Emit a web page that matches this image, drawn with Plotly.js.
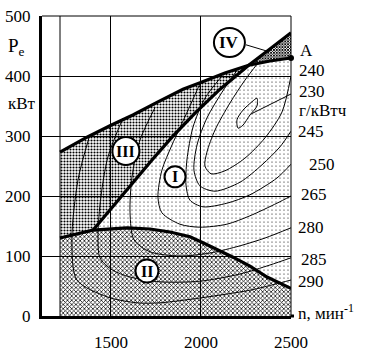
<!DOCTYPE html>
<html><head><meta charset="utf-8">
<script src="https://cdn.plot.ly/plotly-3.0.1.min.js"></script>
<style>html,body{margin:0;padding:0;background:#fff}</style>
</head><body><div id="chart" style="width:368px;height:353px"></div>
<script>
// axis ticks
const xTickVals = [1500, 2000, 2500];
const yTickVals = [0, 100, 200, 300, 400, 500];
const nMin = 1217;
const nMax = 2500;
const pTop = 500;

// upper boundary (max power)
const upperN = [1217, 1367, 1500, 1622, 1761, 1900, 2006, 2133, 2265, 2383, 2500];
const upperP = [273, 298, 318, 335, 357, 378, 390, 405, 418, 425, 430];
// boundary line III / I / IV
const lineN = [1400, 1494, 1606, 1728, 1839, 1967, 2106, 2265, 2383, 2500];
const lineP = [143, 177, 217, 260, 298, 338, 378, 418, 445, 472];
// upper boundary of zone II
const lowerN = [1217, 1400, 1589, 1717, 1828, 1939, 2011, 2178, 2272, 2367, 2500];
const lowerP = [130, 143, 147, 145, 140, 132, 122, 98, 83, 65, 46];
const nCross = 2265;
const nJoin = 1400;

// specific fuel consumption contours, g/kWh
const c230N = [2311, 2283, 2233, 2200, 2206, 2233, 2272, 2311, 2311];
const c230P = [363, 357, 343, 327, 313, 318, 335, 350, 363];
const c240N = [2317, 2244, 2161, 2078, 2033, 2022, 2056, 2133, 2244, 2356, 2450, 2500];
const c240P = [422, 393, 355, 310, 273, 250, 237, 242, 263, 297, 340, 400];
const c245N = [2206, 2117, 2033, 1978, 1961, 1994, 2078, 2217, 2339, 2439, 2500];
const c245P = [412, 373, 330, 285, 243, 217, 208, 223, 252, 282, 308];
const c250N = [2117, 2022, 1956, 1922, 1917, 1939, 2011, 2144, 2272, 2422, 2500];
const c250P = [400, 363, 315, 260, 218, 193, 182, 188, 202, 230, 253];
const c265N = [1994, 1928, 1839, 1783, 1761, 1783, 1883, 1994, 2144, 2272, 2422, 2500];
const c265P = [387, 343, 285, 243, 198, 172, 153, 148, 153, 167, 188, 200];
const c280N = [1744, 1661, 1617, 1606, 1628, 1717, 1883, 2050, 2217, 2356, 2500];
const c280P = [347, 293, 232, 172, 127, 107, 100, 105, 117, 130, 147];
const c285N = [1567, 1483, 1444, 1428, 1439, 1506, 1606, 1772, 1994, 2217, 2383, 2500];
const c285P = [330, 265, 198, 135, 97, 77, 65, 57, 58, 70, 85, 97];
const c290N = [1383, 1317, 1283, 1311, 1478, 1644, 1772, 1994, 2272, 2411, 2500];
const c290P = [302, 227, 127, 60, 32, 22, 22, 30, 43, 53, 60];
const leaderN = [2280, 2500];
const leaderP = [337, 370];

// contour labels on the right edge
const levelLabels = ['240', '230', 'г/кВтч', '245', '250', '265', '280', '285', '290'];
const levelLabelP = [410, 375, 343, 307, 253, 202, 147, 95, 58];
const levelLabelShift = [6, 6, 6, 5, 16, 8, 5, 8, 5];

// point A
const pointAN = [2500];
const pointAP = [430];

// zone labels
const zoneNames = ['IV', 'III', 'I', 'II'];
const zoneN = [2158, 1583, 1856, 1700];
const zoneP = [456, 275, 232, 75];
const zoneSize = [[31, 29], [27, 28], [21, 21], [23, 23]];
const ivLeaderN = [2250, 2361];
const ivLeaderP = [452, 442];

// ---- build polygons from the boundaries ----
function pick(ns, ps, f) { const x = [], y = []; ns.forEach((n, i) => { if (f(n)) { x.push(n); y.push(ps[i]); } }); return [x, y]; }
const [uL_n, uL_p] = pick(upperN, upperP, n => n <= nCross);
const [uR_n, uR_p] = pick(upperN, upperP, n => n >= nCross);
const [lL_n, lL_p] = pick(lineN, lineP, n => n <= nCross);
const [lR_n, lR_p] = pick(lineN, lineP, n => n >= nCross);
const [wL_n, wL_p] = pick(lowerN, lowerP, n => n <= nJoin);
const [wR_n, wR_p] = pick(lowerN, lowerP, n => n >= nJoin);
const rev = a => a.slice().reverse();

const zoneII = { x: [...lowerN, nMax, nMin], y: [...lowerP, 0, 0] };
const zoneIII = { x: [...uL_n, ...rev(lL_n), ...rev(wL_n)], y: [...uL_p, ...rev(lL_p), ...rev(wL_p)] };
const zoneI = { x: [...lL_n, ...uR_n, ...rev(wR_n)], y: [...lL_p, ...uR_p, ...rev(wR_p)] };
const zoneIV = { x: [...lR_n, ...rev(uR_n)], y: [...lR_p, ...rev(uR_p)] };

function fillTrace(z, shape, size, sol) {
  return { x: z.x, y: z.y, type: 'scatter', mode: 'lines', fill: 'toself',
    line: { width: 0, color: 'rgba(0,0,0,0)' }, fillcolor: 'rgba(0,0,0,0)',
    fillpattern: { shape: shape, size: size, solidity: sol, fgcolor: '#000', bgcolor: 'rgba(0,0,0,0)', fillmode: 'replace' },
    hoverinfo: 'skip', showlegend: false };
}
function lineTrace(x, y, w, spline, dash) {
  return { x: x, y: y, type: 'scatter', mode: 'lines',
    line: { color: '#000', width: w, shape: spline ? 'spline' : 'linear', smoothing: 0.8, dash: dash || 'solid' },
    hoverinfo: 'skip', showlegend: false };
}

const traces = [
  fillTrace(zoneI, '.', 4, 0.07),
  fillTrace(zoneIII, '.', 3, 0.4),
  fillTrace(zoneII, 'x', 3, 0.42),
  fillTrace(zoneIV, 'x', 2, 0.7),
  lineTrace([nMin, nMin], [0, pTop], 1, false),
  lineTrace(c230N, c230P, 1, true),
  lineTrace(c240N, c240P, 1, true),
  lineTrace(c245N, c245P, 1, true),
  lineTrace(c250N, c250P, 1, true),
  lineTrace(c265N, c265P, 1, true),
  lineTrace(c280N, c280P, 1, true),
  lineTrace(c285N, c285P, 1, true),
  lineTrace(c290N, c290P, 1, true),
  lineTrace(leaderN, leaderP, 1, false),
  lineTrace(ivLeaderN, ivLeaderP, 1, false),
  lineTrace(upperN, upperP, 3.2, false),
  lineTrace(lineN, lineP, 3.2, false),
  lineTrace(lowerN, lowerP, 3.2, false),
  { x: pointAN, y: pointAP, type: 'scatter', mode: 'markers', marker: { color: '#000', size: 6 }, cliponaxis: false, hoverinfo: 'skip', showlegend: false }
];

const PX = px => (px - 42) / 249;
const PY = py => (316 - py) / 300;
const serif = 'Liberation Serif, Times New Roman, serif';

const annotations = [
  { text: 'P<sub>e</sub>', xref: 'paper', yref: 'paper', x: PX(6), y: PY(47), xanchor: 'left', yanchor: 'middle', showarrow: false, font: { family: serif, size: 19, color: '#000' } },
  { text: 'кВт', xref: 'paper', yref: 'paper', x: PX(6), y: PY(103), xanchor: 'left', yanchor: 'middle', showarrow: false, font: { family: serif, size: 17, color: '#000' } },
  { text: 'n, мин<sup>-1</sup>', xref: 'paper', yref: 'paper', x: PX(296), y: PY(312), xanchor: 'left', yanchor: 'middle', showarrow: false, font: { family: serif, size: 17, color: '#000' } },
  { text: 'A', xref: 'x', yref: 'y', x: nMax, y: 443, xanchor: 'left', yanchor: 'middle', xshift: 7, showarrow: false, font: { family: serif, size: 17, color: '#000' } }
];
levelLabels.forEach((t, i) => annotations.push({ text: t, xref: 'x', yref: 'y', x: nMax, y: levelLabelP[i], xanchor: 'left', yanchor: 'middle', xshift: levelLabelShift[i], showarrow: false, font: { family: serif, size: 17, color: '#000' } }));

const shapes = [
  { type: 'line', xref: 'paper', yref: 'paper', x0: 0, x1: 1, y0: 1, y1: 1, line: { color: '#000', width: 1 } },
  { type: 'line', xref: 'paper', yref: 'paper', x0: 1, x1: 1, y0: 0, y1: 1, line: { color: '#000', width: 1 } },
  { type: 'line', xref: 'paper', yref: 'paper', x0: 1, x1: 1.012, y0: 0, y1: 0, line: { color: '#000', width: 3 } }
];
zoneNames.forEach((t, i) => {
  const w = zoneSize[i][0] / 2, h = zoneSize[i][1] / 2;
  shapes.push({ type: 'circle', xref: 'x', yref: 'y', xsizemode: 'pixel', ysizemode: 'pixel', xanchor: zoneN[i], yanchor: zoneP[i], x0: -w, x1: w, y0: -h, y1: h, fillcolor: '#fff', line: { color: '#000', width: 2 }, layer: 'above' });
  annotations.push({ text: '<b>' + t + '</b>', xref: 'x', yref: 'y', x: zoneN[i], y: zoneP[i], showarrow: false, xanchor: 'center', yanchor: 'middle', font: { family: serif, size: i === 0 ? 17 : 16, color: '#000' } });
});

const layout = {
  width: 368, height: 353,
  margin: { l: 42, r: 77, t: 16, b: 37, pad: 0 },
  paper_bgcolor: '#fff', plot_bgcolor: '#fff',
  showlegend: false,
  xaxis: { range: [1117, 2500], tickvals: xTickVals, showgrid: true, gridcolor: '#000', gridwidth: 1,
    zeroline: false, showline: true, linecolor: '#000', linewidth: 3, ticks: '', ticklabelstandoff: 9,
    tickfont: { family: serif, size: 17, color: '#000' }, fixedrange: true },
  yaxis: { range: [0, 500], tickvals: yTickVals, showgrid: true, gridcolor: '#000', gridwidth: 1,
    zeroline: false, showline: true, linecolor: '#000', linewidth: 3, ticks: '', ticklabelstandoff: 5,
    tickfont: { family: serif, size: 17, color: '#000' }, fixedrange: true },
  shapes: shapes,
  annotations: annotations
};

Plotly.newPlot('chart', traces, layout, { staticPlot: true, displayModeBar: false });
</script></body></html>
